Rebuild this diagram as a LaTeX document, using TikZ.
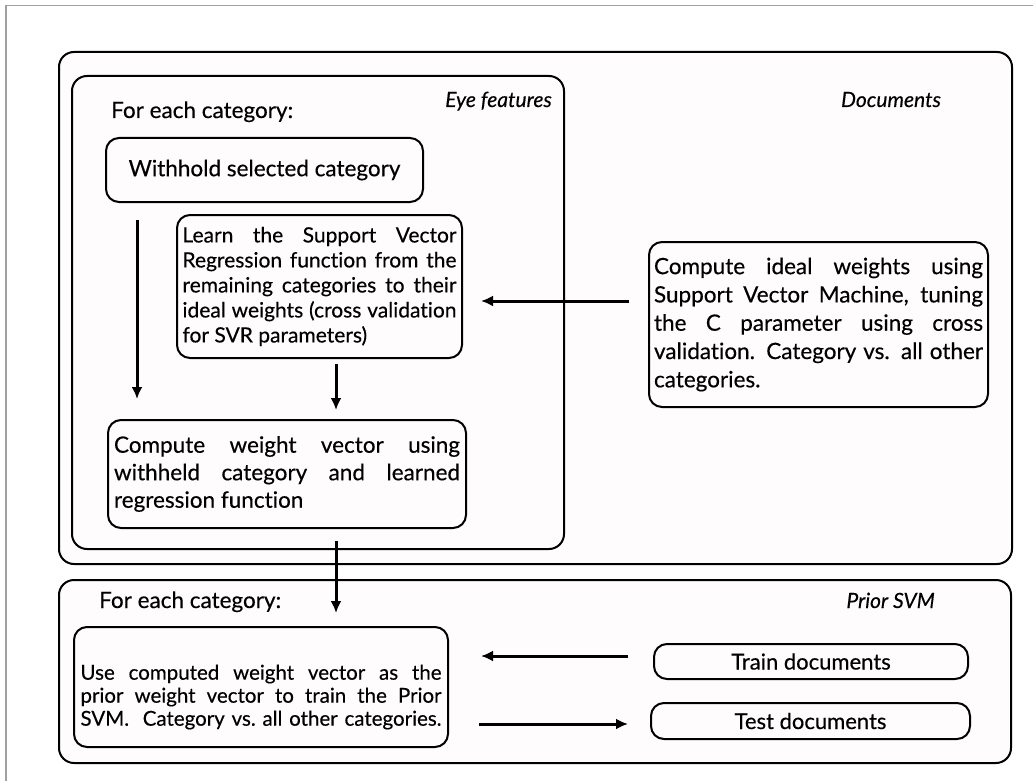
\documentclass[tikz,border=0pt]{standalone}
\usepackage{fontspec}
\setmainfont{Lato}[Ligatures=NoCommon, FakeBold=0.35, AutoFakeBold=0.35]
\newfontfamily\lblfont{Lato}[Ligatures=NoCommon]
\usetikzlibrary{arrows.meta}
\definecolor{boxfill}{RGB}{255,252,253}
\definecolor{framegray}{RGB}{160,160,160}
\newcommand\JL[2]{\makebox[#1][s]{#2}}
\begin{document}
\begin{tikzpicture}[x=1pt,y=-1pt,
  grp/.style={draw=black, line width=2pt, rounded corners=15pt, fill=boxfill, inner sep=0pt},
  stepbox/.style={draw=black, line width=2pt, rounded corners=13pt, fill=boxfill, inner sep=0pt, align=left},
  lbl/.style={inner sep=0pt, font=\fontsize{22.5}{27}\selectfont},
  ttl/.style={inner sep=0pt, font=\fontsize{21}{25}\selectfont\itshape},
  arr/.style={line width=3pt, -{Latex[length=12pt,width=11pt]}}
]
\useasboundingbox (0,0) rectangle (1033,781);
\fill[white] (0,0) rectangle (1033,781);
\draw[framegray, line width=1.5pt] (6,781) -- (6,5.5) -- (1033,5.5);

% group boxes
\node[grp, minimum width=953pt, minimum height=512pt] (docs) at (535.5,308) {};
\node[grp, minimum width=492pt, minimum height=473pt] (eye) at (318,312.5) {};
\node[grp, minimum width=952pt, minimum height=183pt] (prior) at (535,671.5) {};

% group labels
\node[lbl, anchor=base west] (fec1) at (111,118) {For each category:};
\node[ttl, anchor=base east] (eyelbl) at (552,107) {Eye features};
\node[ttl, anchor=base] (doclbl) at (891,107) {Documents};
\node[lbl, anchor=base west] (fec2) at (99,608) {For each category:};
\node[ttl, anchor=base east] (priorlbl) at (935,608) {Prior SVM};

% step boxes
\node[stepbox, minimum width=317pt, minimum height=64pt, font=\fontsize{22.5}{27}\selectfont] (withhold) at (264.5,170) {Withhold selected category};

\node[stepbox, minimum width=285pt, minimum height=143pt, font=\fontsize{21}{25}\selectfont] (learn) at (319.5,286.5) {%
\JL{274pt}{Learn the Support Vector}\\
\JL{274pt}{Regression function from the}\\
\JL{274pt}{remaining categories to their}\\
\JL{274pt}{ideal weights (cross validation}\\
for SVR parameters)};

\node[stepbox, minimum width=358pt, minimum height=108pt, font=\fontsize{22.5}{27.5}\selectfont] (compute) at (287,474) {%
\JL{346pt}{Compute weight vector using}\\
\JL{346pt}{withheld category and learned}\\
regression function};

\node[stepbox, minimum width=339pt, minimum height=165pt, font=\fontsize{22.5}{28.3}\selectfont] (svm) at (818.5,324.5) {%
\JL{329pt}{Compute ideal weights using}\\
\JL{329pt}{Support Vector Machine, tuning}\\
\JL{329pt}{the C parameter using cross}\\
\JL{329pt}{validation. Category vs. all other}\\
categories.};

\node[stepbox, minimum width=374pt, minimum height=120pt] (priorbox) at (261,687) {};
\node[inner sep=0pt, align=left, font=\fontsize{20.5}{23}\selectfont] (priortxt) at (261,697) {%
\JL{361pt}{Use computed weight vector as the}\\
\JL{361pt}{prior weight vector to train the Prior}\\
\JL{361pt}{SVM.\ \ Category vs.\ all other categories.}};

\node[stepbox, minimum width=314pt, minimum height=35pt, font=\fontsize{22}{26}\selectfont] (train) at (811,661.5) {Train documents};
\node[stepbox, minimum width=319pt, minimum height=36pt, font=\fontsize{22}{26}\selectfont] (test) at (810.5,721) {Test documents};

% connectors
\coordinate (lx) at (137,0);
\coordinate (mx) at (336,0);
\coordinate (ty) at (0,656);
\coordinate (sy) at (0,724);
\coordinate (hy) at (0,301);

\draw[arr, shorten <=17pt, shorten >=20pt] (withhold.south -| lx) -- (compute.north -| lx);
\draw[arr, shorten <=5pt, shorten >=9pt] (learn.south -| mx) -- (compute.north -| mx);
\draw[arr, shorten <=19pt, shorten >=18pt] (svm.west |- hy) -- (learn.east |- hy);
\draw[arr, shorten <=12pt, shorten >=13pt] (compute.south -| mx) -- (priorbox.north -| mx);
\draw[arr, shorten <=25pt, shorten >=32pt] (train.west |- ty) -- (priorbox.east |- ty);
\draw[arr, shorten <=30pt, shorten >=22pt] (priorbox.east |- sy) -- (test.west |- sy);
\end{tikzpicture}
\end{document}
